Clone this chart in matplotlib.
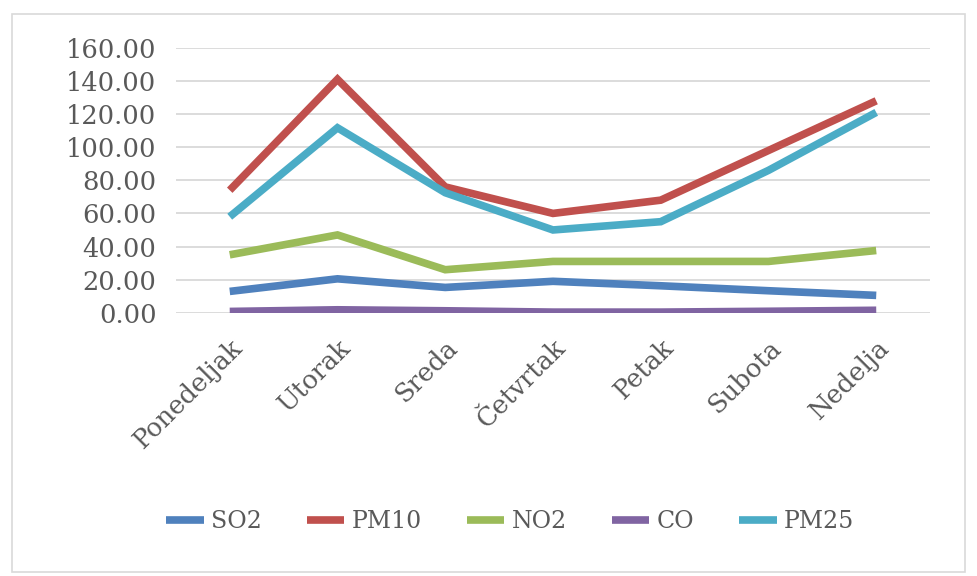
import matplotlib.pyplot as plt
from matplotlib.patches import Rectangle

days = ["Ponedeljak", "Utorak", "Sreda", "Četvrtak", "Petak", "Subota", "Nedelja"]
so2 = [12.9, 20.5, 15.3, 19.0, 16.3, 13.3, 10.5]
pm10 = [74.0, 141.0, 76.0, 60.0, 68.0, 98.0, 128.0]
no2 = [35.0, 47.0, 26.0, 31.0, 31.0, 31.0, 37.6]
co = [0.8, 1.8, 1.2, 0.4, 0.4, 0.9, 1.5]
pm25 = [58.0, 111.7, 72.5, 50.0, 55.0, 86.0, 121.0]
yticks = [0, 20, 40, 60, 80, 100, 120, 140, 160]

series = [("SO2", so2, "#4F81BD"), ("PM10", pm10, "#C0504D"),
          ("NO2", no2, "#9BBB59"), ("CO", co, "#8064A2"),
          ("PM25", pm25, "#4BACC6")]

plt.rcParams['font.family'] = ['DejaVu Serif']
fig = plt.figure(figsize=(9.77, 5.76), dpi=100)
fig.patches.append(Rectangle((12 / 977, 4 / 576), 953 / 977, 558 / 576,
                             transform=fig.transFigure, fill=False,
                             edgecolor="#D9D9D9", linewidth=1.2))

ax = fig.add_axes([0.180, 0.457, 0.772, 0.460])
x = range(len(days))
for name, vals, col in series:
    ax.plot(x, vals, color=col, linewidth=5.5, label=name,
            solid_joinstyle="miter", solid_capstyle="butt")

ax.set_xlim(-0.5, len(days) - 0.5)
ax.set_ylim(0, 160)
ax.set_yticks(yticks)
ax.set_yticklabels([f"{v:.2f}" for v in yticks])
ax.set_xticks(list(x))
ax.set_xticklabels(days, rotation=45, ha="right", rotation_mode="anchor")
ax.tick_params(axis="both", length=0, labelsize=18.5, colors="#595959", pad=14)
ax.tick_params(axis="x", pad=16)
ax.grid(axis="y", color="#D9D9D9", linewidth=1.3)
ax.set_axisbelow(True)
for s in ax.spines.values():
    s.set_visible(False)

fig.legend(loc="center", bbox_to_anchor=(0.522, 0.095), ncol=5, frameon=False,
           fontsize=17, handlelength=1.6, columnspacing=1.9, handletextpad=0.3,
           labelcolor="#595959")

fig.savefig("out.png", dpi=100)
